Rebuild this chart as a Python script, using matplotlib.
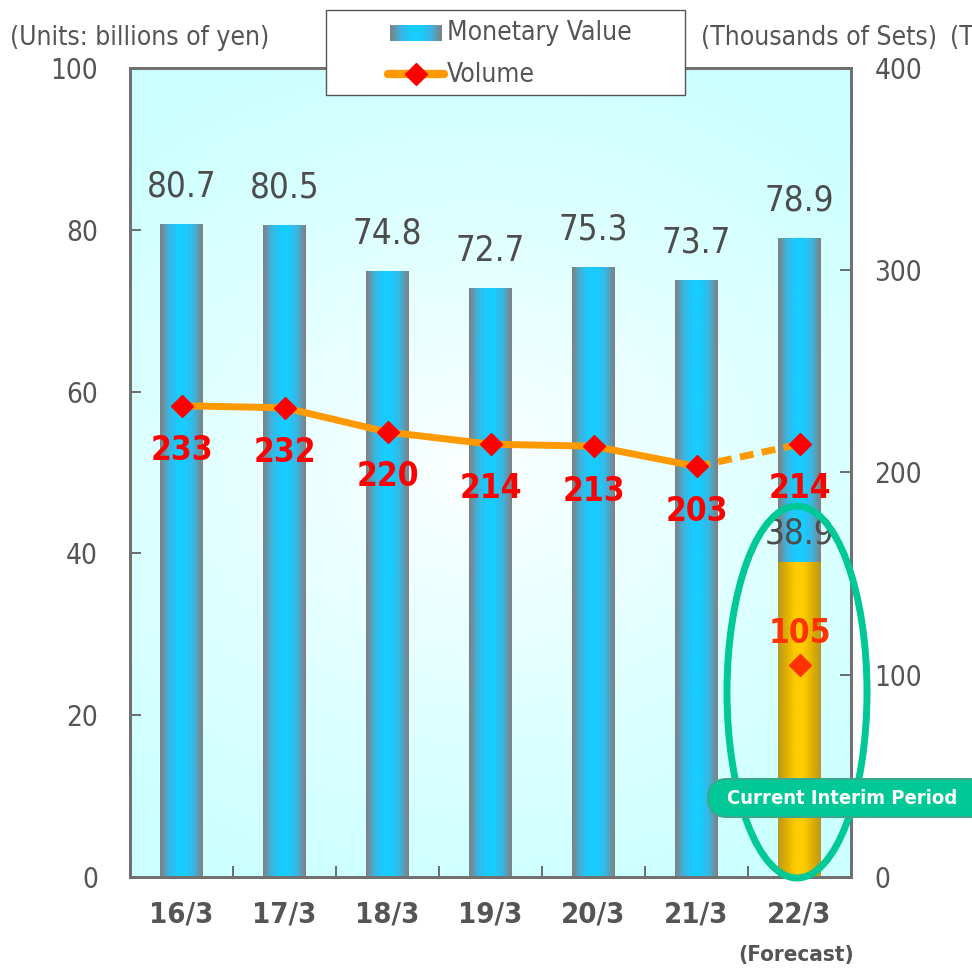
import numpy as np
import matplotlib
matplotlib.use("Agg")
import matplotlib.pyplot as plt
from matplotlib.colors import LinearSegmentedColormap
from matplotlib.patches import Ellipse, FancyBboxPatch, Rectangle
from matplotlib.lines import Line2D

plt.rcParams['font.family'] = ['DejaVu Sans']
plt.rcParams['font.stretch'] = 'condensed'

years = ['16/3', '17/3', '18/3', '19/3', '20/3', '21/3', '22/3']
monetary = [80.7, 80.5, 74.8, 72.7, 75.3, 73.7, 78.9]
volume = [233, 232, 220, 214, 213, 203, 214]
interim_value = 38.9
interim_volume = 105

GREY = '#555555'
bar_w = 0.41

fig = plt.figure(figsize=(9.72, 9.68), dpi=100)
ax = fig.add_axes([130 / 972, 91 / 968, 721 / 972, 809 / 968])
ax2 = ax.twinx()

ax.set_xlim(-0.5, 6.5)
ax.set_ylim(0, 100)
ax2.set_ylim(0, 400)

# radial background
yy, xx = np.mgrid[0:1:300j, 0:1:300j]
r = np.sqrt(((xx - 0.48) / 0.75) ** 2 + ((yy - 0.5) / 0.55) ** 2)
r = np.clip(r, 0, 1)
bg = np.zeros((300, 300, 3))
c0 = np.array([1.0, 1.0, 1.0])
c1 = np.array([0.80, 1.0, 1.0])
for i in range(3):
    bg[..., i] = c0[i] + (c1[i] - c0[i]) * r ** 0.8
ax.imshow(bg, extent=[-0.5, 6.5, 0, 100], aspect='auto', origin='lower', zorder=0)

bar_cmap = LinearSegmentedColormap.from_list(
    'bar', ['#808080', '#3cb4e0', '#18ccff', '#18ccff', '#3cb4e0', '#808080'])
gold_cmap = LinearSegmentedColormap.from_list(
    'gold', ['#b89a1e', '#e0b000', '#ffcc00', '#ffcc00', '#e0b000', '#b89a1e'])
grad = np.linspace(0, 1, 100).reshape(1, -1)

for i, v in enumerate(monetary):
    ax.imshow(grad, cmap=bar_cmap, extent=[i - bar_w / 2, i + bar_w / 2, 0, v],
              aspect='auto', zorder=2)
    ax.text(i, v + 2.6, f'{v}', ha='center', va='bottom', fontsize=25,
            color='#4d4d4d', zorder=5)

ax.imshow(grad, cmap=gold_cmap, extent=[6 - bar_w / 2, 6 + bar_w / 2, 0, interim_value],
          aspect='auto', zorder=3)
ax.text(6, interim_value + 1.5, f'{interim_value}', ha='center', va='bottom', fontsize=25,
        color='#4d4d4d', zorder=5)

# volume line
x = np.arange(len(years))
ax2.plot(x[:6], volume[:6], color='#ff9900', lw=5, solid_capstyle='round', zorder=4)
ax2.plot(x[5:], volume[5:], color='#ff9900', lw=5, ls=(0, (2, 1.2)), zorder=4)
ax2.plot(x, volume, ls='none', marker='D', ms=11, color='#ff0000', zorder=5)
for i, v in enumerate(volume):
    ax2.text(i, v - 14, f'{v}', ha='center', va='top', fontsize=24,
             color='#ff0000', fontweight='bold', zorder=6)
ax2.plot([6], [interim_volume], ls='none', marker='D', ms=11, color='#ff3300', zorder=5)
ax2.text(6, interim_volume + 7, f'{interim_volume}', ha='center', va='bottom',
         fontsize=24, color='#ff3300', fontweight='bold', zorder=6)

ax.set_xticks(np.arange(-0.5, 7, 1), minor=False)
ax.set_xticklabels([])
ax.set_xticks(x, minor=True)
ax.set_xticklabels(years, minor=True, fontsize=21, fontweight='bold', color=GREY)
ax.tick_params(axis='x', which='major', direction='in', length=8, color=GREY, width=1.2)
ax.tick_params(axis='x', which='minor', length=0, pad=17)
ax.set_yticks([0, 20, 40, 60, 80, 100])
ax.tick_params(axis='y', direction='in', length=8, color=GREY, width=1.2,
               labelsize=20, labelcolor=GREY, pad=23)
ax2.set_yticks([0, 100, 200, 300, 400])
ax2.tick_params(axis='y', direction='in', length=8, color=GREY, width=1.2,
                labelsize=20, labelcolor=GREY, pad=17)
for a in (ax, ax2):
    for s in a.spines.values():
        s.set_color('#707070')
        s.set_linewidth(2)

# interim highlight
ell = Ellipse((797 / 972, 1 - 692 / 968), 140 / 972, 372 / 968, transform=fig.transFigure,
              fill=False, edgecolor='#00c896', lw=5, zorder=10)
fig.add_artist(ell)
box = FancyBboxPatch((708 / 972, 1 - 817 / 968), 280 / 972, 38 / 968,
                     boxstyle='round,pad=0,rounding_size=0.02', transform=fig.transFigure,
                     facecolor='#00c896', edgecolor='#3aa88a', lw=1.5, zorder=11)
fig.add_artist(box)
fig.text(842 / 972, 1 - 799 / 968, 'Current Interim Period', ha='center', va='center',
         fontsize=14.5, fontweight='bold', color='white', zorder=12)

fig.text(10 / 972, 1 - 38 / 968, '(Units: billions of yen)', ha='left', va='center',
         fontsize=19, color=GREY)
fig.text(701 / 972, 1 - 38 / 968, '(Thousands of Sets)', ha='left', va='center',
         fontsize=19, color=GREY)
fig.text(950 / 972, 1 - 38 / 968, '(T', ha='left', va='center',
         fontsize=19, color=GREY)
fig.text(796 / 972, 1 - 955 / 968, '(Forecast)', ha='center', va='center',
         fontsize=16, fontweight='bold', color=GREY)

# legend box
lg = Rectangle((326 / 972, 1 - 95 / 968), 359 / 972, 85 / 968, transform=fig.transFigure,
               facecolor='white', edgecolor='#555555', lw=1, zorder=20)
fig.add_artist(lg)
lax = fig.add_axes([390 / 972, 1 - 41 / 968, 52 / 972, 16 / 968], zorder=21)
lax.imshow(grad, cmap=bar_cmap, aspect='auto')
lax.axis('off')
fig.text(447 / 972, 1 - 33 / 968, 'Monetary Value', ha='left', va='center',
         fontsize=19, color=GREY, zorder=22)
fig.add_artist(Line2D([388 / 972, 444 / 972], [1 - 74 / 968] * 2, transform=fig.transFigure,
                      color='#ff9900', lw=6, solid_capstyle='round', zorder=22))
fig.add_artist(Line2D([416 / 972], [1 - 74 / 968], transform=fig.transFigure, marker='D',
                      ms=11, color='#ff0000', ls='none', zorder=23))
fig.text(447 / 972, 1 - 75 / 968, 'Volume', ha='left', va='center',
         fontsize=19, color=GREY, zorder=22)

fig.savefig('out.png', dpi=100)
